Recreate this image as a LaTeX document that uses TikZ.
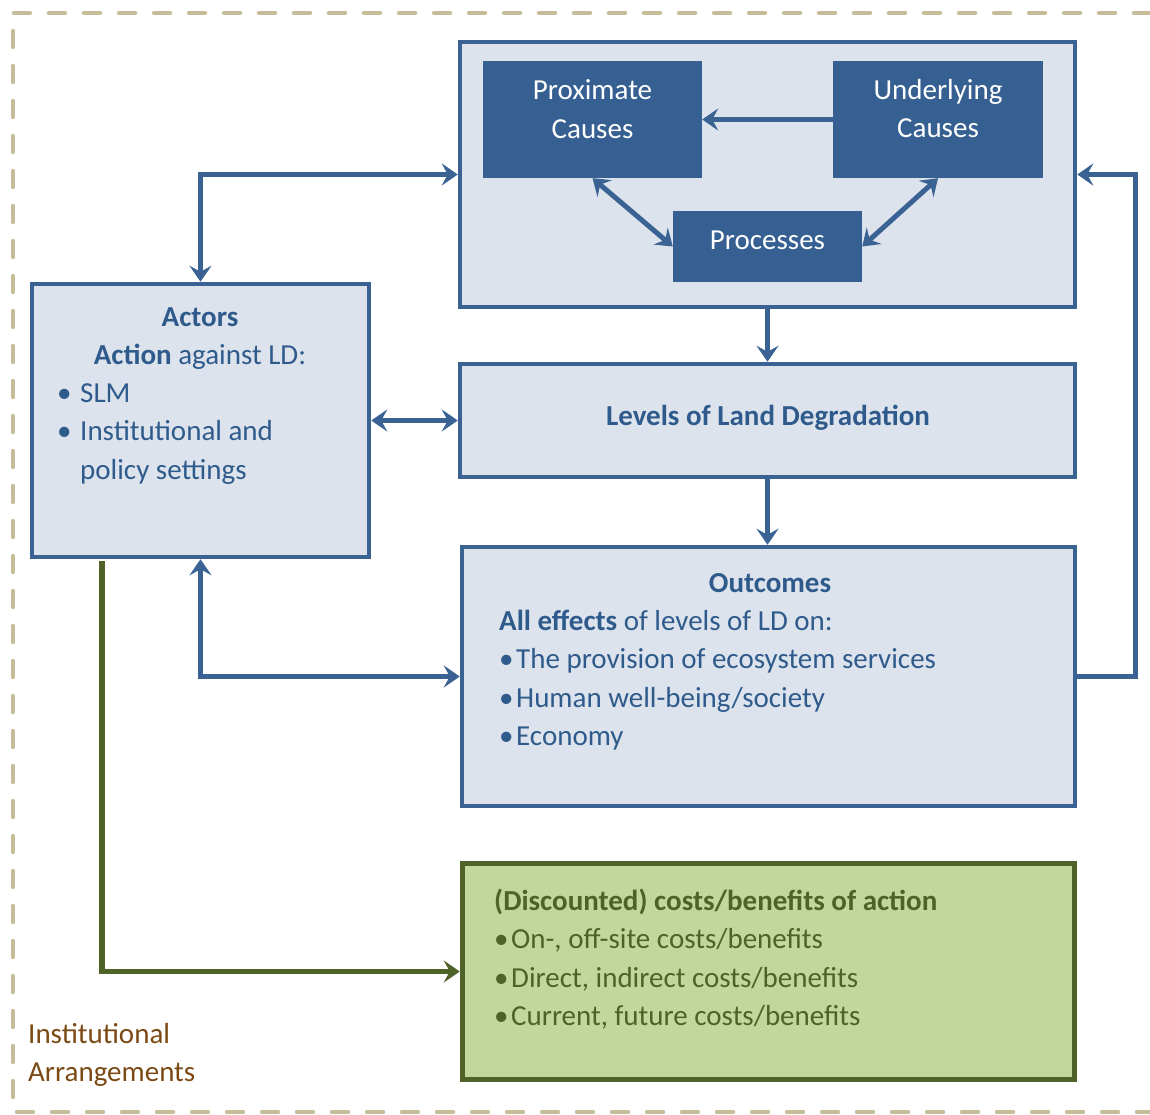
\documentclass[tikz,border=0pt]{standalone}
\usepackage{fontspec}
\setmainfont{Carlito}
\usetikzlibrary{arrows.meta}

\definecolor{dkblue}{HTML}{3A6394}
\definecolor{midblue}{HTML}{366092}
\definecolor{paleblue}{HTML}{DCE3EC}
\definecolor{txtblue}{HTML}{2F5B8C}
\definecolor{leaf}{HTML}{C3D69B}
\definecolor{olive}{HTML}{4F6228}
\definecolor{sand}{HTML}{C4BD97}
\definecolor{rust}{HTML}{7B4A14}

\tikzset{
    panel/.style = {draw = dkblue, line width = 4.5pt, fill = paleblue, inner sep = 0pt},
    cause/.style = {fill = midblue, inner sep = 0pt},
    boxtext/.style = {text = txtblue, inner sep = 0pt, font = \fontsize{29}{38.5}\selectfont},
    flow/.style = {draw = dkblue, line width = 5pt},
}

\newcommand{\bul}[1]{\makebox[#1][l]{\textbullet}}

\begin{document}
\begin{tikzpicture}[x = 1pt, y = -1pt, > = {Stealth[length = 16pt, width = 22pt, inset = 6pt]}]

    % Page the size of the reference.
    \useasboundingbox (0, 0) rectangle (1150, 1115);

    % Dashed frame for the institutional arrangements.
    \draw[draw = sand, line width = 4.5pt, dash pattern = on 16pt off 19pt, line cap = round]
        (1150, 13) -- (13, 13) -- (13, 1112) -- (1150, 1112);

    % The panels.
    \node[panel, minimum width = 615pt, minimum height = 265pt] (causes) at (767.5, 174.5) {};
    \node[panel, minimum width = 615pt, minimum height = 113pt] (levels) at (767.5, 420.5) {};
    \node[panel, minimum width = 613pt, minimum height = 259pt] (outcomes) at (768.5, 676.5) {};
    \node[panel, minimum width = 337pt, minimum height = 273pt] (actors) at (200.5, 420.5) {};
    \node[panel, draw = olive, fill = leaf, line width = 5.5pt, minimum width = 612pt, minimum height = 216pt] (costs) at (768.5, 971.5) {};

    % The dark boxes inside the top panel.
    \node[cause, minimum width = 219pt, minimum height = 117pt] (prox) at (592.5, 119.5) {};
    \node[cause, minimum width = 210pt, minimum height = 117pt] (under) at (938, 119.5) {};
    \node[cause, minimum width = 189pt, minimum height = 71pt] (proc) at (767.5, 246.5) {};

    % Texts.
    \node[boxtext, text = white, align = center] (proxtxt) at (592.5, 109.2) {Proximate\\Causes};
    \node[boxtext, text = white, align = center] (undertxt) at (938, 108.7) {Underlying\\Causes};
    \node[boxtext, text = white] (proctxt) at (767.5, 240.7) {Processes};
    \node[boxtext] (levtxt) at (768, 417.7) {\textbf{Levels of Land Degradation}};
    \node[boxtext, align = center] (actorstxt) at (200, 338.7) {\textbf{Actors}\\\textbf{Action} against LD:};
    \node[boxtext, align = left, anchor = west] (actorslist) at (57, 433.7)
        {\bul{23pt}SLM\\\bul{23pt}Institutional and\\\hspace*{23pt}policy settings};
    \node[boxtext] (outtxt) at (770, 582.7) {\textbf{Outcomes}};
    \node[boxtext, align = left, anchor = west] (outlist) at (499, 680)
        {\textbf{All effects} of levels of LD on:\\\bul{17pt}The provision of ecosystem services\\\bul{17pt}Human well-being/society\\\bul{17pt}Economy};
    \node[boxtext, text = olive, align = left, anchor = west] (costlist) at (494, 959)
        {\textbf{(Discounted) costs/benefits of action}\\\bul{17pt}On-, off-site costs/benefits\\\bul{17pt}Direct, indirect costs/benefits\\\bul{17pt}Current, future costs/benefits};
    \node[boxtext, text = rust, align = left, anchor = west] (inst) at (28, 1055) {Institutional\\Arrangements};

    % Arrows inside the top panel.
    \draw[flow, ->] (under.west) -- (prox.east);
    \draw[flow, <->] (prox.south) -- (proc.west);
    \draw[flow, <->] (proc.east) -- (under.south);

    % Arrows between the panels.
    \coordinate (back) at (1135, 676.5);
    \draw[flow, ->] (causes.south) -- (levels.north);
    \draw[flow, ->] (levels.south) -- (levels.south |- outcomes.north);
    \draw[flow, <->] (causes.west) -| (actors.north);
    \draw[flow, <->] (actors.east) -- (levels.west);
    \draw[flow, <->] (actors.south) |- (outcomes.west);
    \draw[flow, ->] (outcomes.east) -- (back) |- (causes.east);

    % Action leads to costs and benefits.
    \coordinate (green) at (102, 561);
    \draw[draw = olive, line width = 5.5pt, ->] (green) |- (costs.west);
\end{tikzpicture}
\end{document}
